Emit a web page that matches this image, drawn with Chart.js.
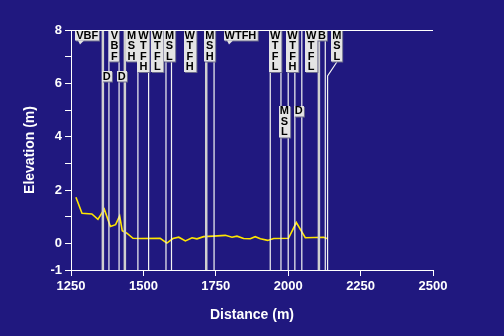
<!DOCTYPE html>
<html>
<head>
<meta charset="utf-8">
<script src="https://cdn.jsdelivr.net/npm/chart.js@4.4.1/dist/chart.umd.min.js"></script>
<style>
  html, body { margin: 0; padding: 0; background: #20187f; }
  #wrap { width: 504px; height: 336px; }
</style>
</head>
<body>
<div id="wrap"><canvas id="profile-chart"></canvas></div>
<script>
// beach profile
const distance = [1267, 1288, 1322, 1343, 1365, 1386, 1404, 1418, 1427, 1443, 1464, 1489, 1558, 1581, 1602, 1622, 1645, 1668, 1685, 1708, 1742, 1783, 1806, 1823, 1846, 1869, 1886, 1904, 1929, 1950, 2001, 2028, 2059, 2122, 2134];
const elevation = [1.73, 1.13, 1.10, 0.90, 1.28, 0.63, 0.70, 1.03, 0.47, 0.38, 0.19, 0.18, 0.19, 0.01, 0.18, 0.23, 0.09, 0.21, 0.17, 0.25, 0.27, 0.30, 0.23, 0.27, 0.18, 0.17, 0.25, 0.17, 0.11, 0.18, 0.19, 0.78, 0.21, 0.23, 0.18];

// station boundaries (m)
const majorBounds = [1360, 1436, 1717, 2106];
const minorBounds = [1381, 1416, 1481, 1518, 1578, 1597, 1744, 1938, 1975, 2000, 2023, 2047, 2128];
// last boundary hangs off a leader from its label
const leaderX = [2168, 2136, 2136];
const leaderY = [6.80, 6.28, -1];

// station labels
const labelText = ['VBF', 'V\nB\nF', 'D', 'D', 'M\nS\nH', 'W\nT\nF\nH', 'W\nT\nF\nL', 'M\nS\nL', 'W\nT\nF\nH', 'M\nS\nH', 'WTFH', 'W\nT\nF\nL', 'W\nT\nF\nH', 'W\nT\nF\nL', 'B', 'M\nS\nL', 'M\nS\nL', 'D'];
const labelDist = [1306, 1400, 1373, 1425, 1459, 1500, 1548, 1590, 1660, 1729, 1835, 1955, 2015, 2079, 2117, 2168, 1987, 2036];
const labelElev = [7.8, 7.8, 6.26, 6.26, 7.8, 7.8, 7.8, 7.8, 7.8, 7.8, 7.8, 7.8, 7.8, 7.8, 7.8, 7.8, 4.97, 4.97];

const yMin = -1, yMax = 8;

Chart.defaults.font.family = '"Liberation Sans", Arial, sans-serif';

function boundPoints(list) {
    const pts = [];
    list.forEach(d => {
        pts.push({ x: d, y: yMin }, { x: d, y: yMax }, { x: d, y: null });
    });
    return pts;
}

const topBorder = {
    id: 'topBorder',
    afterDraw(chart) {
        const { ctx, chartArea } = chart;
        ctx.save();
        ctx.strokeStyle = '#ffffff';
        ctx.lineWidth = 1;
        ctx.beginPath();
        ctx.moveTo(chartArea.left, chartArea.top + 0.5);
        ctx.lineTo(chartArea.right, chartArea.top + 0.5);
        ctx.stroke();
        ctx.restore();
    }
};

const stationLabels = {
    id: 'stationLabels',
    afterDatasetsDraw(chart) {
        const { ctx, scales: { x, y } } = chart;
        const rowH = 10.5;
        ctx.save();
        ctx.font = 'bold 11px "Liberation Sans", Arial, sans-serif';
        ctx.textAlign = 'center';
        ctx.textBaseline = 'middle';
        labelText.forEach((txt, i) => {
            const rows = txt.split('\n');
            const cx = x.getPixelForValue(labelDist[i]);
            const cy = y.getPixelForValue(labelElev[i]);
            const w = Math.max(...rows.map(r => ctx.measureText(r).width)) + 2;
            const h = rows.length * rowH;
            const left = Math.round(cx - w / 2), top = Math.round(cy - rowH / 2);
            ctx.fillStyle = '#6c6c8c';
            ctx.fillRect(left + 1, top + 1, w, h);
            ctx.fillStyle = '#e4e4e4';
            ctx.fillRect(left, top, w, h);
            if (rows.length === 1 && txt.length > 1) {
                // small pointer under horizontal labels
                ctx.beginPath();
                ctx.moveTo(left + 3, top + h);
                ctx.lineTo(left + 9, top + h);
                ctx.lineTo(left + 5, top + h + 4);
                ctx.closePath();
                ctx.fill();
            }
            ctx.fillStyle = '#000000';
            rows.forEach((r, k) => ctx.fillText(r, cx, cy + k * rowH + 0.5));
        });
        ctx.restore();
    }
};

new Chart(document.querySelector('#profile-chart'), {
    type: 'line',
    data: {
        datasets: [
            {
                label: 'major',
                data: boundPoints(majorBounds),
                borderColor: '#cfcfcf',
                borderWidth: 2.5,
                spanGaps: false,
            },
            {
                label: 'minor',
                data: boundPoints(minorBounds),
                borderColor: '#f4f4f4',
                borderWidth: 1.2,
                spanGaps: false,
            },
            {
                label: 'leader',
                data: leaderX.map((d, i) => ({ x: d, y: leaderY[i] })),
                borderColor: '#f4f4f4',
                borderWidth: 1.2,
            },
            {
                label: 'profile',
                data: distance.map((d, i) => ({ x: d, y: elevation[i] })),
                borderColor: '#ffe600',
                borderWidth: 1.6,
            },
        ],
    },
    options: {
        responsive: true,
        maintainAspectRatio: false,
        animation: false,
        layout: { padding: { top: 30, right: 71, left: 0, bottom: 0 } },
        elements: { point: { radius: 0 }, line: { tension: 0 } },
        plugins: {
            legend: { display: false },
            tooltip: { enabled: false },
        },
        scales: {
            x: {
                type: 'linear',
                min: 1250,
                max: 2500,
                ticks: {
                    stepSize: 250,
                    color: '#ffffff',
                    maxRotation: 0,
                    padding: 3,
                    font: { size: 13, weight: 'bold' },
                    callback: v => String(v),
                },
                grid: { drawOnChartArea: false, color: '#ffffff', tickLength: 6 },
                border: { color: '#ffffff', width: 1 },
                title: {
                    display: true,
                    text: 'Distance (m)',
                    color: '#ffffff',
                    font: { size: 14, weight: 'bold' },
                    padding: { top: 0, bottom: 12 },
                },
                afterFit(scale) { scale.height = 66; },
            },
            y: {
                min: yMin,
                max: yMax,
                ticks: {
                    stepSize: 1,
                    autoSkip: false,
                    color: '#ffffff',
                    padding: 3,
                    font: { size: 13, weight: 'bold' },
                    callback: v => (v % 2 === 0 || v === -1) ? String(v) : '',
                },
                grid: { drawOnChartArea: false, color: '#ffffff', tickLength: 6 },
                border: { color: '#ffffff', width: 1 },
                title: {
                    display: true,
                    text: 'Elevation (m)',
                    color: '#ffffff',
                    font: { size: 14, weight: 'bold' },
                    padding: { top: 22, bottom: 0 },
                },
                afterFit(scale) { scale.width = 71; },
            },
        },
    },
    plugins: [topBorder, stationLabels],
});
</script>
</body>
</html>
